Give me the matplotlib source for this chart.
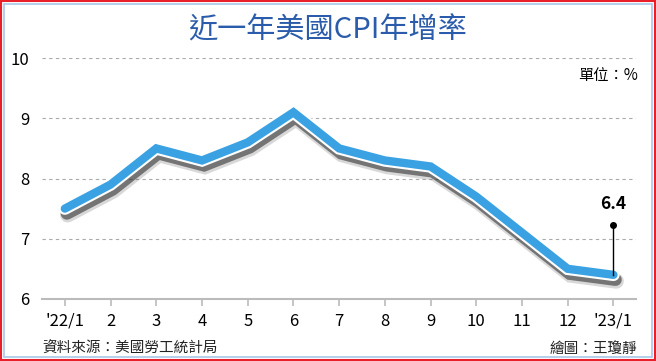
import matplotlib
matplotlib.use('Agg')
import matplotlib.pyplot as plt
import matplotlib.patheffects as pe
from matplotlib.patches import Rectangle

plt.rcParams['font.family'] = ['Noto Sans CJK TC', 'DejaVu Sans']

months = ["'22/1", '2', '3', '4', '5', '6', '7', '8', '9', '10', '11', '12', "'23/1"]
cpi = [7.5, 7.9, 8.5, 8.3, 8.6, 9.1, 8.5, 8.3, 8.2, 7.7, 7.1, 6.5, 6.4]
yticks = [6, 7, 8, 9, 10]

fig = plt.figure(figsize=(6.56, 3.61), dpi=100)
ax = fig.add_axes([0.064, 0.172, 0.906, 0.667])

# frames around the picture
fig.patches.append(Rectangle((0.001, 0.002), 0.997, 0.995, transform=fig.transFigure,
                             fill=False, ec='#e8202a', lw=1.5))
fig.patches.append(Rectangle((0.006, 0.011), 0.988, 0.978, transform=fig.transFigure,
                             fill=False, ec='#a8c8e8', lw=1.2))

x = list(range(len(months)))
ax.plot(x, cpi, color='#3aa2e2', lw=6, solid_capstyle='round', solid_joinstyle='miter', zorder=3,
        path_effects=[pe.SimpleLineShadow(offset=(2, -4.5), shadow_color='#666666', alpha=0.25, rho=1,
                                          linewidth=11),
                      pe.SimpleLineShadow(offset=(1.5, -3.5), shadow_color='#222222', alpha=0.55, rho=1,
                                          linewidth=9),
                      pe.Stroke(linewidth=9, foreground='white'),
                      pe.Normal()])

# callout for last value
ax.plot([x[-1], x[-1]], [cpi[-1], 7.22], color='black', lw=1, zorder=4)
ax.plot(x[-1], 7.22, 'o', color='black', ms=4, zorder=4)
ax.text(x[-1], 7.42, f'{cpi[-1]}', ha='center', va='bottom', fontsize=12.5, fontweight='bold')

ax.set_xlim(-0.5, 12.5)
ax.set_ylim(6, 10)
ax.set_yticks(yticks)
ax.set_xticks(x)
ax.set_xticklabels(months)
for y in yticks[1:]:
    ax.axhline(y, color='#aaaaaa', lw=0.8, ls=(0, (3, 3)), zorder=1)
for s in ['top', 'right', 'left']:
    ax.spines[s].set_visible(False)
ax.spines['bottom'].set_color('#bbbbbb')
ax.spines['bottom'].set_linewidth(1.5)
ax.tick_params(axis='x', length=5, width=1.2, color='#bbbbbb', labelsize=12, pad=5)
ax.tick_params(axis='y', length=0, labelsize=12, pad=9)

fig.text(0.5, 0.915, '近一年美國CPI年增率', ha='center', va='center', fontsize=21,
         fontweight='medium', color='#2a5cab')
fig.text(0.972, 0.79, '單位：%', ha='right', va='center', fontsize=11)
fig.text(0.064, 0.033, '資料來源：美國勞工統計局', ha='left', va='center', fontsize=10.5, color='#222222')
fig.text(0.972, 0.033, '繪圖：王瓊靜', ha='right', va='center', fontsize=10.5, color='#222222')

fig.savefig('out.png', dpi=100)
